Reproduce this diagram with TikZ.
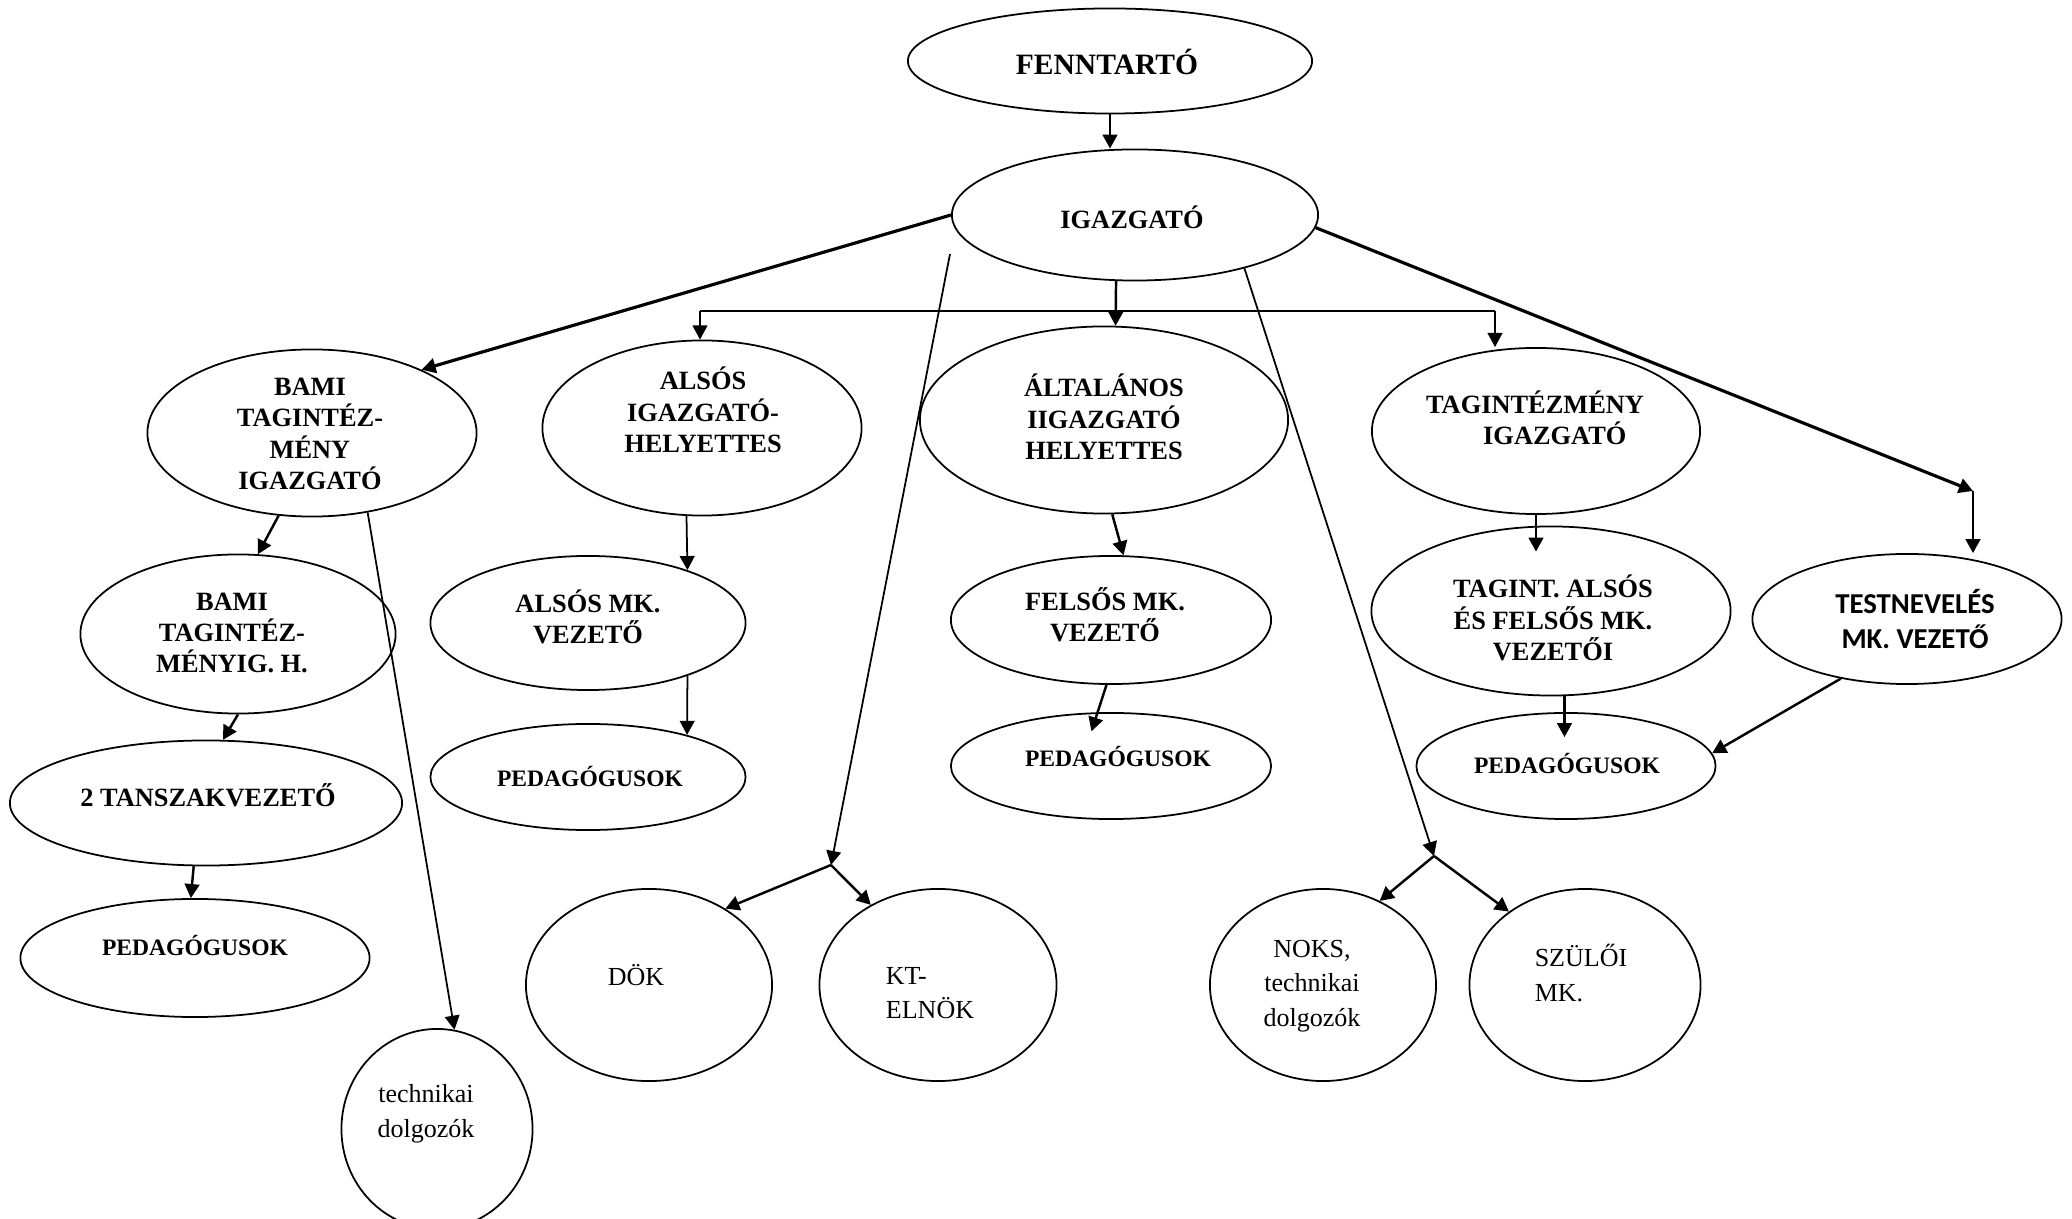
\documentclass[tikz,border=0pt]{standalone}
\usepackage{fontspec}
\setmainfont{Liberation Serif}
\newfontfamily\calibrifont{Carlito}
\usetikzlibrary{shapes.geometric,arrows.meta}

\tikzset{
  oval/.style 2 args={ellipse,draw,line width=0.5pt,inner sep=0pt,minimum width=#1,minimum height=#2},
  bigtxt/.style={align=center,font=\bfseries\fontsize{8.4}{10}\selectfont},
  boldtxt/.style={align=center,font=\bfseries\fontsize{7.5}{8.9}\selectfont},
  pedtxt/.style={align=center,font=\bfseries\fontsize{6.7}{8}\selectfont},
  normtxt/.style={align=center,font=\fontsize{7.4}{9.8}\selectfont},
  testtxt/.style={align=center,font=\calibrifont\bfseries\fontsize{8.2}{10}\selectfont},
  conn/.style={->,line width=0.7pt},
  thinconn/.style={->,line width=0.5pt},
}

\begin{document}
\begin{tikzpicture}[x=0.01cm,y=-0.01cm,>={Triangle[length=4pt,width=4.2pt]}]
\useasboundingbox (0,0) rectangle (2072,1219);

% top of the chart
\node[oval={4.04cm}{1.05cm}] (fenn) at (1110,61) {};
\node[bigtxt] (fenn-t) at (1107,62) {FENNTARTÓ};
\node[oval={3.66cm}{1.31cm}] (igaz) at (1135,215) {};
\node[boldtxt] (igaz-t) at (1132,217) {IGAZGATÓ};

% second row
\node[oval={3.29cm}{1.67cm}] (bami) at (312,433) {};
\node[boldtxt] (bami-t) at (310,434) {BAMI\\TAGINTÉZ-\\MÉNY\\IGAZGATÓ};
\node[oval={3.19cm}{1.75cm}] (alsoh) at (702,428) {};
\node[boldtxt] (alsoh-t) at (703,410) {ALSÓS\\IGAZGATÓ-\\HELYETTES};
\node[oval={3.68cm}{1.87cm}] (altal) at (1104,420) {};
\node[boldtxt] (altal-t) at (1104,417) {ÁLTALÁNOS\\IIGAZGATÓ\\HELYETTES};
\node[oval={3.28cm}{1.66cm}] (tagig) at (1536,431) {};
\node[boldtxt] (tagig-t) at (1535,418) {TAGINTÉZMÉNY\\\hspace*{1.5em}IGAZGATÓ};

% left column
\node[oval={3.15cm}{1.59cm}] (bamih) at (238,634) {};
\node[boldtxt] (bamih-t) at (232,633) {BAMI\\TAGINTÉZ-\\MÉNYIG. H.};
\node[oval={3.92cm}{1.25cm}] (tansz) at (206,803) {};
\node[boldtxt] (tansz-t) at (208,795) {2 TANSZAKVEZETŐ};
\node[oval={3.49cm}{1.18cm}] (pedl) at (195,958) {};
\node[pedtxt] (pedl-t) at (195,946) {PEDAGÓGUSOK};
\node[oval={1.91cm}{2.00cm}] (tech) at (437,1129) {};
\node[normtxt] (tech-t) at (426,1114) {technikai\\dolgozók};

% middle columns
\node[oval={3.15cm}{1.34cm}] (alsomk) at (588,623) {};
\node[boldtxt] (alsomk-t) at (588,617) {ALSÓS MK.\\VEZETŐ};
\node[oval={3.15cm}{1.06cm}] (pedm) at (588,777) {};
\node[pedtxt] (pedm-t) at (590,777) {PEDAGÓGUSOK};
\node[oval={2.46cm}{1.92cm}] (dok) at (649,985) {};
\node[normtxt] (dok-t) at (636,975) {DÖK};
\node[oval={2.37cm}{1.92cm}] (kt) at (938,985) {};
\node[normtxt,align=left] (kt-t) at (930,993) {KT-\\ELNÖK};
\node[oval={3.20cm}{1.28cm}] (felsomk) at (1111,620) {};
\node[boldtxt] (felsomk-t) at (1105,615) {FELSŐS MK.\\VEZETŐ};
\node[oval={3.20cm}{1.06cm}] (pedf) at (1111,766) {};
\node[pedtxt] (pedf-t) at (1118,757) {PEDAGÓGUSOK};

% right columns
\node[oval={3.59cm}{1.69cm}] (tagmk) at (1551,611) {};
\node[boldtxt] (tagmk-t) at (1553,618) {TAGINT. ALSÓS\\ÉS FELSŐS MK.\\VEZETŐI};
\node[oval={2.99cm}{1.06cm}] (pedr) at (1566,766) {};
\node[pedtxt] (pedr-t) at (1567,764) {PEDAGÓGUSOK};
\node[oval={3.09cm}{1.30cm}] (test) at (1907,619) {};
\node[testtxt] (test-t) at (1915,619) {TESTNEVELÉS\\MK. VEZETŐ};
\node[oval={2.26cm}{1.92cm}] (noks) at (1323,985) {};
\node[normtxt] (noks-t) at (1312,986) {NOKS,\\technikai\\dolgozók};
\node[oval={2.31cm}{1.92cm}] (szul) at (1585,985) {};
\node[normtxt,align=left] (szul-t) at (1581,973) {SZÜLŐI\\MK.};

\coordinate (barl) at (700,311);
\coordinate (barr) at (1495,311);
\coordinate (tcorner) at (1973,491);
\coordinate (dtop) at (950,254);
\coordinate (dsplit) at (831,865);
\coordinate (nsplit) at (1434,856);

% connectors
\draw[conn] (fenn.south) -- (fenn.south |- igaz.north);
\draw[conn,line width=0.9pt] (igaz.west) -- (bami.30);
\draw[conn] (igaz.254) -- (altal.83);
\draw[line width=0.5pt] (barl) -- (barr);
\draw[thinconn] (barl) -- (barl |- alsoh.north);
\draw[thinconn] (barr) -- (barr |- tagig.north);
\draw[conn,line width=0.9pt] (igaz.356) -- (tcorner);
\draw[conn] (tcorner) -- (tcorner |- test.north);

\draw[thinconn] (dtop) -- (dsplit);
\draw[conn] (dsplit) -- (dok.45);
\draw[conn] (dsplit) -- (kt.130);
\draw[thinconn] (igaz.334) -- (nsplit);
\draw[conn] (nsplit) -- (noks.56);
\draw[conn] (nsplit) -- (szul.136);

\draw[conn] (bami.248) -- (bamih.76);
\draw[thinconn] (bami.305) -- (tech.80);
\draw[conn] (bamih.south) -- (tansz.75);
\draw[conn] (tansz.259) -- (pedl.94);

\draw[thinconn] (alsoh.260) -- (alsomk.28);
\draw[thinconn] (alsomk.332) -- (pedm.23);
\draw[conn] (altal.275) -- (felsomk.79);
\draw[conn,shorten >=-0.2cm] (felsomk.266) -- (pedf.104);

\draw[conn,shorten >=-0.26cm] (tagig.south) -- (tagig.south |- tagmk.north);
\draw[conn,shorten >=-0.25cm] (tagmk.279) -- (tagmk.279 |- pedr.north);
\draw[conn] (test.222) -- (pedr.5);
\end{tikzpicture}
\end{document}
